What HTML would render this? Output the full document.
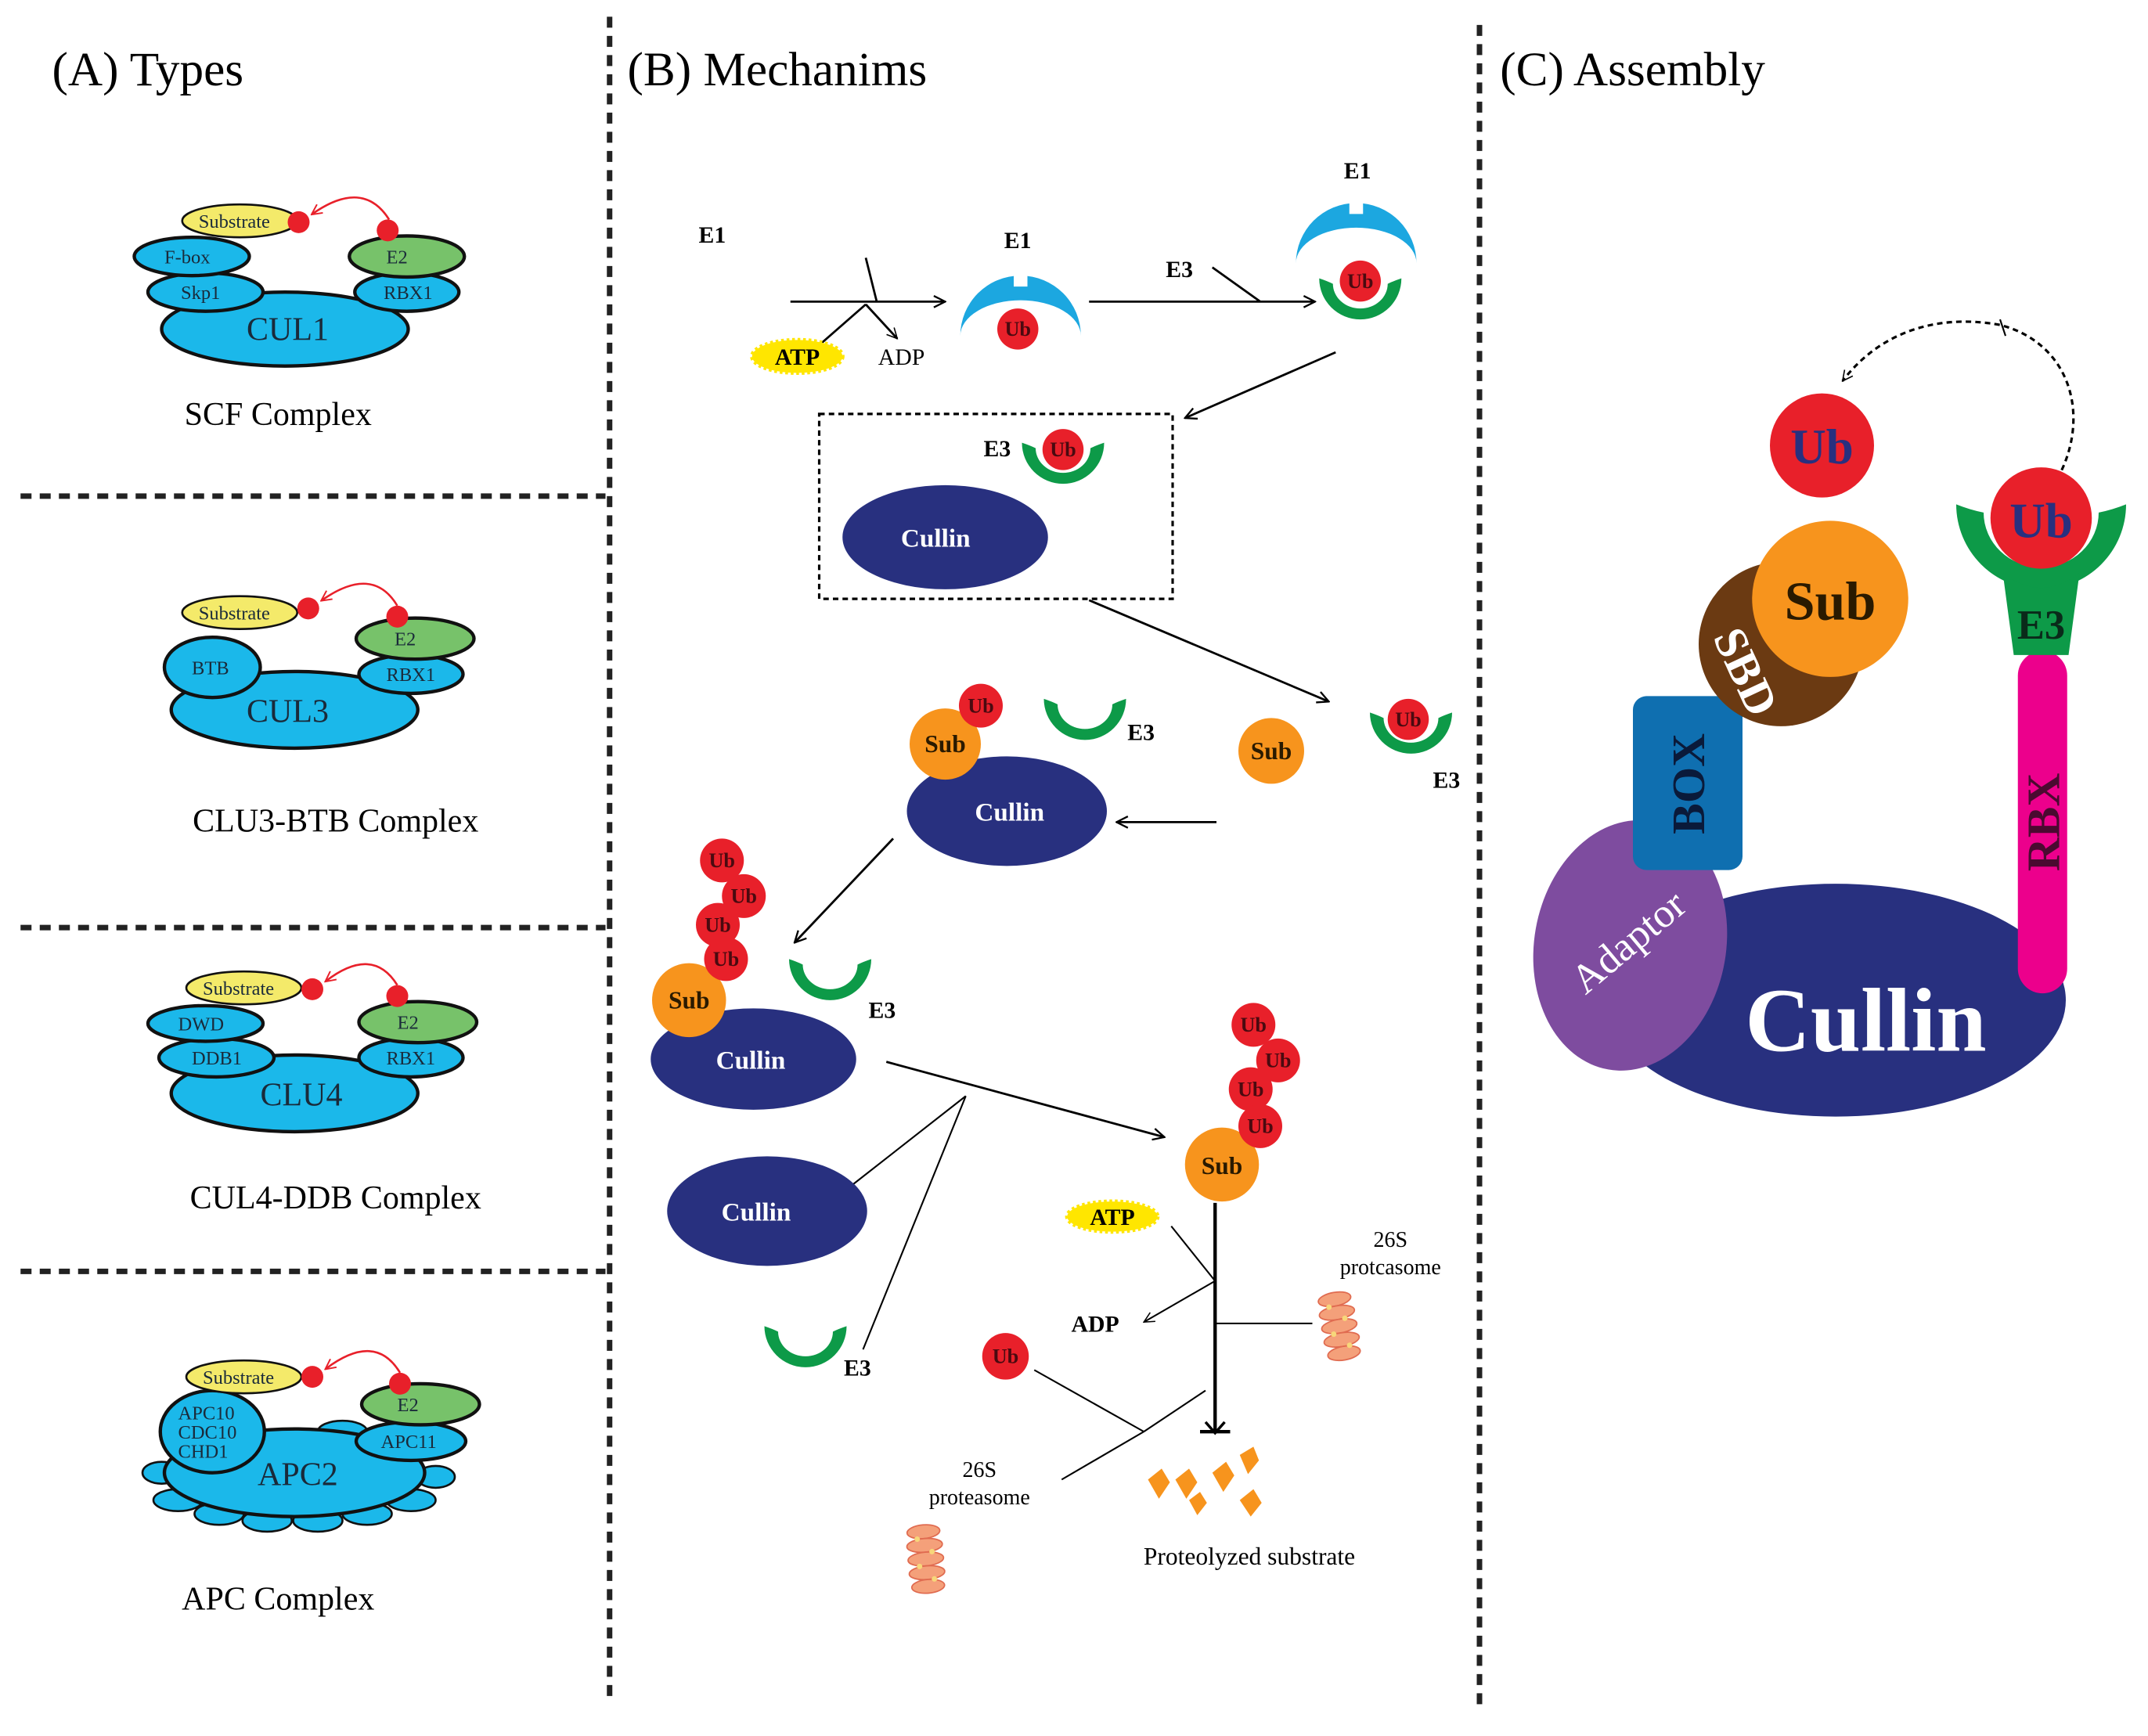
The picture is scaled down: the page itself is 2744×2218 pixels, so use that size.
<!DOCTYPE html>
<html><head><meta charset="utf-8"><style>
html,body{margin:0;padding:0;background:#fff;}
svg{display:block;}
text{font-family:"Liberation Serif",serif;}
</style></head><body>
<svg width="2744" height="2218" viewBox="0 0 1568 1267" xmlns="http://www.w3.org/2000/svg">
<defs>
<marker id="ar" viewBox="0 0 12 12" refX="11" refY="6" markerWidth="10" markerHeight="10" orient="auto" markerUnits="userSpaceOnUse"><path d="M1,1 L11,6 L1,11" fill="none" stroke="#000" stroke-width="1.6"/></marker>
<marker id="arr" viewBox="0 0 12 12" refX="10" refY="6" markerWidth="9" markerHeight="9" orient="auto" markerUnits="userSpaceOnUse"><path d="M1,1 L11,6 L1,11" fill="none" stroke="#e8202a" stroke-width="1.5"/></marker>
<marker id="ars" viewBox="0 0 12 12" refX="11" refY="6" markerWidth="9" markerHeight="9" orient="auto" markerUnits="userSpaceOnUse"><path d="M1,1 L11,6 L1,11" fill="none" stroke="#000" stroke-width="1.2"/></marker>
<g id="cup"><path d="M-30,-22 A30,30 0 0 0 30,-22 Q24,-20 20,-18 A20,18 0 0 1 -20,-18 Q-24,-20 -30,-22 Z" fill="#0d9a48"/></g>
<g id="e1"><path d="M-44,32 A44,44 0 0 1 44,32 A44,26 0 0 0 -44,32 Z" fill="#1ca7e0"/><rect x="-5" y="-14" width="10" height="10" fill="#fff"/></g>
<g id="prot"><g fill="#f4a07a" stroke="#e06b50" stroke-width="1"><ellipse cx="0" cy="-22" rx="12" ry="5"/><ellipse cx="0" cy="-12" rx="13" ry="5"/><ellipse cx="0" cy="-2" rx="13" ry="5"/><ellipse cx="0" cy="8" rx="13" ry="5"/><ellipse cx="0" cy="18" rx="12" ry="5"/></g><g fill="#f7d77a"><circle cx="-5" cy="-17" r="2"/><circle cx="5" cy="-7" r="2"/><circle cx="-5" cy="3" r="2"/><circle cx="5" cy="13" r="2"/></g></g>
</defs>
<rect width="1568" height="1267" fill="#fff"/>
<g stroke="#222" stroke-width="4" stroke-dasharray="8,6" fill="none">
<line x1="445" y1="12" x2="445" y2="1242"/>
<line x1="1080" y1="18" x2="1080" y2="1247"/>
<line x1="15" y1="362" x2="442" y2="362"/>
<line x1="15" y1="677" x2="442" y2="677"/>
<line x1="15" y1="928" x2="442" y2="928"/>
</g>
<text x="38" y="62" font-size="35">(A) Types</text>
<text x="458" y="62" font-size="35">(B) Mechanims</text>
<text x="1095" y="62" font-size="35">(C) Assembly</text>

<g stroke="#111" stroke-width="2.5" font-size="15">
<ellipse cx="208" cy="240" rx="90" ry="27" fill="#1bb8ea"/>
<ellipse cx="150" cy="213" rx="42" ry="14" fill="#1bb8ea"/>
<ellipse cx="140" cy="187" rx="42" ry="14" fill="#1bb8ea"/>
<ellipse cx="297" cy="213" rx="38" ry="14" fill="#1bb8ea"/>
<ellipse cx="297" cy="187" rx="42" ry="15" fill="#77c26a"/>
<ellipse cx="175" cy="161" rx="42" ry="12" fill="#f4ea6a" stroke-width="1.5"/>
<ellipse cx="215" cy="518" rx="90" ry="28" fill="#1bb8ea"/>
<ellipse cx="155" cy="487" rx="35" ry="22" fill="#1bb8ea"/>
<ellipse cx="300" cy="492" rx="38" ry="14" fill="#1bb8ea"/>
<ellipse cx="303" cy="466" rx="43" ry="15" fill="#77c26a"/>
<ellipse cx="175" cy="447" rx="42" ry="12" fill="#f4ea6a" stroke-width="1.5"/>
<ellipse cx="215" cy="798" rx="90" ry="28" fill="#1bb8ea"/>
<ellipse cx="158" cy="772" rx="42" ry="14" fill="#1bb8ea"/>
<ellipse cx="150" cy="747" rx="42" ry="13" fill="#1bb8ea"/>
<ellipse cx="300" cy="772" rx="38" ry="14" fill="#1bb8ea"/>
<ellipse cx="305" cy="746" rx="43" ry="15" fill="#77c26a"/>
<ellipse cx="178" cy="721" rx="42" ry="12" fill="#f4ea6a" stroke-width="1.5"/>
<g fill="#1bb8ea" stroke-width="1.5">
<ellipse cx="130" cy="1095" rx="18" ry="8"/><ellipse cx="160" cy="1105" rx="18" ry="8"/><ellipse cx="195" cy="1110" rx="18" ry="8"/><ellipse cx="232" cy="1110" rx="18" ry="8"/><ellipse cx="268" cy="1105" rx="18" ry="8"/><ellipse cx="300" cy="1095" rx="18" ry="8"/><ellipse cx="318" cy="1078" rx="14" ry="8"/><ellipse cx="118" cy="1075" rx="14" ry="8"/><ellipse cx="140" cy="1052" rx="18" ry="8"/><ellipse cx="250" cy="1045" rx="18" ry="8"/>
</g>
<ellipse cx="215" cy="1075" rx="95" ry="32" fill="#1bb8ea"/>
<ellipse cx="155" cy="1045" rx="38" ry="30" fill="#1bb8ea"/>
<ellipse cx="300" cy="1052" rx="40" ry="14" fill="#1bb8ea"/>
<ellipse cx="307" cy="1025" rx="43" ry="15" fill="#77c26a"/>
<ellipse cx="178" cy="1005" rx="42" ry="12" fill="#f4ea6a" stroke-width="1.5"/>
</g>
<g fill="#e8202a">
<circle cx="218" cy="162" r="8"/><circle cx="283" cy="168" r="8"/>
<circle cx="225" cy="444" r="8"/><circle cx="290" cy="450" r="8"/>
<circle cx="228" cy="722" r="8"/><circle cx="290" cy="727" r="8"/>
<circle cx="228" cy="1005" r="8"/><circle cx="292" cy="1010" r="8"/>
</g>
<g fill="none" stroke="#e8202a" stroke-width="1.5" marker-end="url(#arr)">
<path d="M284,160 Q265,130 228,156"/>
<path d="M290,442 Q272,412 235,438"/>
<path d="M290,719 Q272,690 238,716"/>
<path d="M292,1002 Q274,972 238,999"/>
</g>
<g font-size="14" fill="#1a2a3a">
<text x="145" y="166">Substrate</text><text x="120" y="192">F-box</text><text x="132" y="218">Skp1</text><text x="282" y="192">E2</text><text x="280" y="218">RBX1</text><text x="180" y="248" font-size="24">CUL1</text>
<text x="145" y="452">Substrate</text><text x="140" y="492">BTB</text><text x="288" y="471">E2</text><text x="282" y="497">RBX1</text><text x="180" y="527" font-size="24">CUL3</text>
<text x="148" y="726">Substrate</text><text x="130" y="752">DWD</text><text x="140" y="777">DDB1</text><text x="290" y="751">E2</text><text x="282" y="777">RBX1</text><text x="190" y="807" font-size="24">CLU4</text>
<text x="148" y="1010">Substrate</text><text x="130" y="1036">APC10</text><text x="130" y="1050">CDC10</text><text x="130" y="1064">CHD1</text><text x="290" y="1030">E2</text><text x="278" y="1057">APC11</text><text x="188" y="1084" font-size="24">APC2</text>
</g>
<g font-size="24" text-anchor="middle">
<text x="203" y="310">SCF Complex</text>
<text x="245" y="607">CLU3-BTB Complex</text>
<text x="245" y="882">CUL4-DDB Complex</text>
<text x="203" y="1175">APC Complex</text>
</g>

<g stroke="#000" stroke-width="1.6" fill="none">
<line x1="577" y1="220" x2="690" y2="220" marker-end="url(#ar)"/>
<line x1="632" y1="188" x2="640" y2="220"/>
<line x1="632" y1="222" x2="600" y2="250"/>
<line x1="632" y1="222" x2="655" y2="247" marker-end="url(#ars)"/>
<line x1="795" y1="220" x2="960" y2="220" marker-end="url(#ar)"/>
<line x1="885" y1="195" x2="920" y2="220"/>
<line x1="975" y1="257" x2="865" y2="305" marker-end="url(#ar)"/>
<rect x="598" y="302" width="258" height="135" stroke-dasharray="4,3" stroke-width="1.8"/>
<line x1="795" y1="438" x2="970" y2="512" marker-end="url(#ar)"/>
<line x1="888" y1="600" x2="815" y2="600" marker-end="url(#ar)"/>
<line x1="652" y1="612" x2="580" y2="688" marker-end="url(#ar)"/>
<line x1="647" y1="775" x2="850" y2="830" marker-end="url(#ar)"/>
<line x1="705" y1="800" x2="622" y2="865" stroke-width="1.2"/>
<line x1="705" y1="800" x2="630" y2="985" stroke-width="1.2"/>
<line x1="887" y1="878" x2="887" y2="1045" stroke-width="2.5"/>
<line x1="876" y1="1045" x2="898" y2="1045" stroke-width="2.5"/>
<path d="M880,1038 L887,1046 L894,1038" stroke-width="2"/>
<line x1="887" y1="935" x2="855" y2="895" stroke-width="1.2"/>
<line x1="887" y1="935" x2="835" y2="965" stroke-width="1.2" marker-end="url(#ars)"/>
<line x1="887" y1="966" x2="958" y2="966" stroke-width="1.2"/>
<line x1="755" y1="1000" x2="835" y2="1045" stroke-width="1.2"/>
<line x1="880" y1="1015" x2="835" y2="1045" stroke-width="1.2"/>
<line x1="835" y1="1045" x2="775" y2="1080" stroke-width="1.2"/>
</g>
<g font-size="17" font-weight="bold">
<text x="510" y="177">E1</text>
<text x="733" y="181">E1</text>
<text x="981" y="130">E1</text>
<text x="851" y="202">E3</text>
<text x="718" y="333">E3</text>
<text x="823" y="540">E3</text>
<text x="1046" y="575">E3</text>
<text x="634" y="743">E3</text>
<text x="616" y="1004">E3</text>
<text x="782" y="972">ADP</text>
<text x="641" y="266" font-weight="normal">ADP</text>
</g>
<ellipse cx="582" cy="260" rx="33" ry="12" fill="#ffe600" stroke="#ffe600" stroke-width="3" stroke-dasharray="2,2"/>
<text x="582" y="266" font-size="17" font-weight="bold" text-anchor="middle">ATP</text>
<ellipse cx="812" cy="888" rx="33" ry="11" fill="#ffe600" stroke="#ffe600" stroke-width="3" stroke-dasharray="2,2"/>
<text x="812" y="894" font-size="17" font-weight="bold" text-anchor="middle">ATP</text>
<use href="#e1" x="745" y="213"/>
<use href="#e1" x="990" y="160"/>
<use href="#cup" x="993" y="225"/>
<use href="#cup" x="776" y="345"/>
<use href="#cup" x="1030" y="542"/>
<use href="#cup" x="792" y="532"/>
<use href="#cup" x="606" y="722"/>
<use href="#cup" x="588" y="990"/>
<g fill="#28307f">
<ellipse cx="690" cy="392" rx="75" ry="38"/>
<ellipse cx="735" cy="592" rx="73" ry="40"/>
<ellipse cx="550" cy="773" rx="75" ry="37"/>
<ellipse cx="560" cy="884" rx="73" ry="40"/>
</g>
<g fill="#fff" font-size="19" font-weight="bold" text-anchor="middle">
<text x="683" y="399">Cullin</text><text x="737" y="599">Cullin</text><text x="548" y="780">Cullin</text><text x="552" y="891">Cullin</text>
</g>
<g fill="#f7941d"><circle cx="928" cy="548" r="24"/><circle cx="690" cy="543" r="26"/><circle cx="503" cy="730" r="27"/><circle cx="892" cy="850" r="27"/></g>
<g font-size="18" font-weight="bold" text-anchor="middle" fill="#2a1a00">
<text x="928" y="554">Sub</text><text x="690" y="549">Sub</text><text x="503" y="736">Sub</text><text x="892" y="857">Sub</text>
</g>
<g fill="#e8202a">
<circle cx="743" cy="240" r="15"/><circle cx="993" cy="205" r="15"/><circle cx="776" cy="328" r="15"/><circle cx="1028" cy="525" r="15"/><circle cx="716" cy="515" r="16"/>
<circle cx="527" cy="628" r="16"/><circle cx="543" cy="654" r="16"/><circle cx="524" cy="675" r="16"/><circle cx="530" cy="700" r="16"/>
<circle cx="915" cy="748" r="16"/><circle cx="933" cy="774" r="16"/><circle cx="913" cy="795" r="16"/><circle cx="920" cy="822" r="16"/>
<circle cx="734" cy="990" r="17"/>
</g>
<g font-size="15" font-weight="bold" text-anchor="middle" fill="#4a0a10">
<text x="743" y="245">Ub</text><text x="993" y="210">Ub</text><text x="776" y="333">Ub</text><text x="1028" y="530">Ub</text><text x="716" y="520">Ub</text>
<text x="527" y="633">Ub</text><text x="543" y="659">Ub</text><text x="524" y="680">Ub</text><text x="530" y="705">Ub</text>
<text x="915" y="753">Ub</text><text x="933" y="779">Ub</text><text x="913" y="800">Ub</text><text x="920" y="827">Ub</text><text x="734" y="995">Ub</text>
</g>
<use href="#prot" transform="translate(978,970) rotate(-10)"/>
<use href="#prot" transform="translate(676,1140) rotate(-5)"/>
<g font-size="16" text-anchor="middle">
<text x="1015" y="910">26S</text><text x="1015" y="930">protcasome</text>
<text x="715" y="1078">26S</text><text x="715" y="1098">proteasome</text>
<text x="912" y="1142" font-size="18">Proteolyzed substrate</text>
</g>
<g fill="#f7941d">
<path d="M838,1080 l10,-8 l6,10 l-8,12 z"/><path d="M858,1080 l10,-8 l6,10 l-8,12 z"/><path d="M885,1075 l10,-8 l6,10 l-8,12 z"/><path d="M905,1062 l10,-6 l4,10 l-8,10 z"/><path d="M905,1095 l10,-8 l6,10 l-8,10 z"/><path d="M868,1095 l8,-6 l5,8 l-7,9 z"/>
</g>

<ellipse cx="1340" cy="730" rx="168" ry="85" fill="#28307f"/>
<ellipse cx="1190" cy="690" rx="70" ry="92" fill="#7e4c9f" transform="rotate(10 1190 690)"/>
<rect x="1473" y="475" width="36" height="250" rx="18" fill="#ec008c"/>
<text x="1491" y="600" font-size="34" font-weight="bold" fill="#4a0a30" text-anchor="middle" transform="rotate(-90 1491 600)" dy="12">RBX</text>
<text x="1362" y="767" font-size="66" font-weight="bold" fill="#fff" text-anchor="middle">Cullin</text>
<text x="1195" y="695" font-size="30" fill="#fff" text-anchor="middle" transform="rotate(-40 1195 695)">Adaptor</text>
<rect x="1192" y="508" width="80" height="127" rx="10" fill="#0f6fb0"/>
<text x="1232" y="572" font-size="34" font-weight="bold" fill="#0a1a3a" text-anchor="middle" transform="rotate(-90 1232 572)" dy="12">BOX</text>
<circle cx="1300" cy="470" r="60" fill="#6b3a12"/>
<text x="1275" y="490" font-size="34" font-weight="bold" fill="#fff" text-anchor="middle" transform="rotate(65 1275 490)" dy="12">SBD</text>
<circle cx="1336" cy="437" r="57" fill="#f7941d"/>
<text x="1336" y="452" font-size="40" font-weight="bold" fill="#2a1a00" text-anchor="middle">Sub</text>
<circle cx="1330" cy="325" r="38" fill="#e8202a"/>
<text x="1330" y="338" font-size="36" font-weight="bold" fill="#28307f" text-anchor="middle">Ub</text>
<path d="M1428,368 A62,62 0 0 0 1552,368 Q1542,372 1532,374 A42,40 0 0 1 1448,374 Q1438,372 1428,368 Z" fill="#0d9a48"/>
<path d="M1462,418 Q1490,440 1518,418 L1510,478 L1470,478 Z" fill="#0d9a48"/>
<circle cx="1490" cy="378" r="37" fill="#e8202a"/>
<text x="1490" y="392" font-size="36" font-weight="bold" fill="#28307f" text-anchor="middle">Ub</text>
<text x="1490" y="466" font-size="30" font-weight="bold" fill="#0a2a1a" text-anchor="middle">E3</text>
<path d="M1505,343 C1525,300 1510,250 1460,237 C1410,228 1370,245 1345,278" fill="none" stroke="#000" stroke-width="1.8" stroke-dasharray="4,3" marker-end="url(#ars)"/>
<line x1="1460" y1="233" x2="1464" y2="245" stroke="#000" stroke-width="1.2"/>
</svg>
</body></html>
